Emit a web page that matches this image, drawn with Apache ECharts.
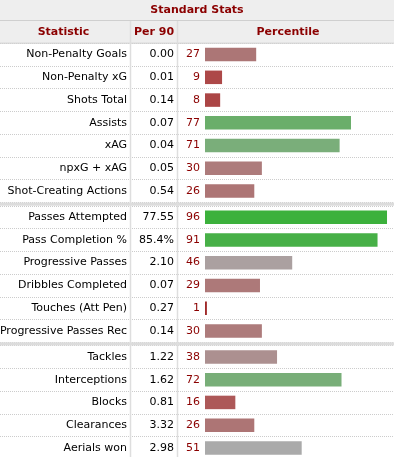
<!DOCTYPE html>
<html><head><meta charset="utf-8">
<script src="https://cdn.jsdelivr.net/npm/echarts@6/dist/echarts.min.js"></script>
<style>html,body{margin:0;padding:0;background:#fff}#c{width:394px;height:457px}</style>
</head><body><div id="c"></div>
<script>
const tableTitle = 'Standard Stats';
const columnHeaders = ['Statistic', 'Per 90', 'Percentile'];
const statistics = ['Non-Penalty Goals', 'Non-Penalty xG', 'Shots Total', 'Assists', 'xAG', 'npxG + xAG', 'Shot-Creating Actions',
  'Passes Attempted', 'Pass Completion %', 'Progressive Passes', 'Dribbles Completed', 'Touches (Att Pen)', 'Progressive Passes Rec',
  'Tackles', 'Interceptions', 'Blocks', 'Clearances', 'Aerials won'];
const per90 = ['0.00', '0.01', '0.14', '0.07', '0.04', '0.05', '0.54',
  '77.55', '85.4%', '2.10', '0.07', '0.27', '0.14',
  '1.22', '1.62', '0.81', '3.32', '2.98'];
const percentiles = [27, 9, 8, 77, 71, 30, 26,
  96, 91, 46, 29, 1, 30,
  38, 72, 16, 26, 51];
const groupSizes = [7, 6, 5];
const barColors = ['#ac7676', '#ad4848', '#ab4545', '#6aae6a', '#7aae7a', '#ad7b7b', '#ad7575',
  '#3cb13c', '#47b047', '#aba0a0', '#ad7979', '#a02a2a', '#ad7b7b',
  '#ac9090', '#78ae78', '#ad5858', '#ad7575', '#aaaaaa'];

const FONT = 'DejaVu Sans';
const RED = '#8b0000';
const ROW = 22.75, TOP0 = 43.2, GAP = 3.3;
const ZERO_X = 205, PX_PER_UNIT = 1.896, W = 394;
const xMin = -ZERO_X / PX_PER_UNIT, xMax = xMin + W / PX_PER_UNIT;

const grids = [], xAxes = [], yAxes = [], series = [], bands = [];
let gridTop = TOP0, start = 0;
groupSizes.forEach((n, g) => {
  const s0 = start;
  const h = n * ROW;
  grids.push({left: 0, top: gridTop, width: W, height: h, containLabel: false, outerBoundsMode: 'none'});
  xAxes.push({type: 'value', gridIndex: g, min: xMin, max: xMax, show: false});
  yAxes.push({
    type: 'category', gridIndex: g, inverse: true, position: 'left', offset: -ZERO_X,
    data: statistics.slice(s0, s0 + n),
    axisLine: {show: false, onZero: false},
    axisTick: {show: false},
    splitLine: {show: true, interval: 0, lineStyle: {color: '#cccccc', width: 1, type: [1, 1]}},
    axisLabel: {
      interval: 0, margin: 5, hideOverlap: false,
      formatter: (v, i) => `{n|${v}}{v|${per90[s0 + i]}}{p|${percentiles[s0 + i]}}`,
      rich: {
        n: {fontFamily: FONT, fontSize: 11, color: '#000', align: 'right', lineHeight: 14},
        v: {fontFamily: FONT, fontSize: 11, color: '#000', align: 'right', width: 47, lineHeight: 14},
        p: {fontFamily: FONT, fontSize: 11, color: RED, align: 'right', width: 26, lineHeight: 14}
      }
    }
  });
  series.push({
    type: 'bar', xAxisIndex: g, yAxisIndex: g, barWidth: 13.5, silent: true,
    data: percentiles.slice(s0, s0 + n).map((p, i) => ({value: p, itemStyle: {color: barColors[s0 + i]}}))
  });
  gridTop += h;
  if (g < groupSizes.length - 1) {
    bands.push({type: 'rect', z: 100, shape: {x: 0, y: gridTop, width: W, height: GAP}, style: {fill: '#dcdcdc'}});
    gridTop += GAP;
  }
  start += n;
});

const headerX = [63.5, 154, 288];
const graphic = [
  {type: 'rect', z: 50, shape: {x: 0, y: 0, width: W, height: 20}, style: {fill: '#eeeeee'}},
  {type: 'rect', z: 50, shape: {x: 0, y: 20, width: W, height: TOP0 - 20}, style: {fill: '#eeeeee'}},
  {type: 'line', z: 101, shape: {x1: 0, y1: 20.5, x2: W, y2: 20.5}, style: {stroke: '#cfcfcf', lineWidth: 1}},
  {type: 'line', z: 101, shape: {x1: 0, y1: TOP0, x2: W, y2: TOP0}, style: {stroke: '#cfcfcf', lineWidth: 1}},
  {type: 'line', z: 102, shape: {x1: 130.5, y1: 21, x2: 130.5, y2: 457}, style: {stroke: '#dedede', lineWidth: 1.5}},
  {type: 'line', z: 102, shape: {x1: 177.5, y1: 21, x2: 177.5, y2: 457}, style: {stroke: '#dedede', lineWidth: 1.5}},
  {type: 'text', z: 103, style: {text: tableTitle, x: 197, y: 10, align: 'center', verticalAlign: 'middle',
    fontFamily: FONT, fontSize: 11, fontWeight: 'bold', fill: RED}},
  ...columnHeaders.map((t, i) => ({type: 'text', z: 103, style: {text: t, x: headerX[i], y: 32, align: 'center',
    verticalAlign: 'middle', fontFamily: FONT, fontSize: 11, fontWeight: 'bold', fill: RED}})),
  ...bands
];

const chart = echarts.init(document.getElementById('c'), null, {renderer: 'canvas'});
chart.setOption({
  animation: false,
  backgroundColor: '#ffffff',
  grid: grids, xAxis: xAxes, yAxis: yAxes, series: series,
  graphic: graphic
});
</script></body></html>
